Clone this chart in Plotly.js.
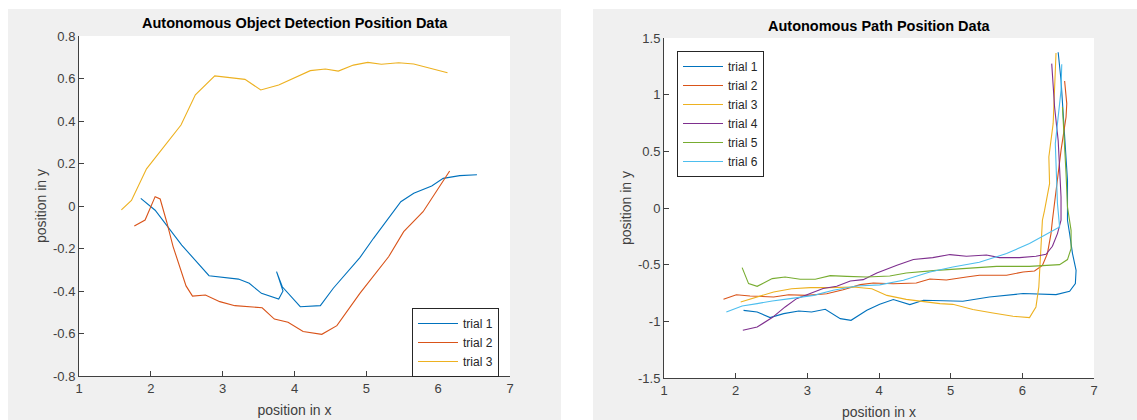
<!DOCTYPE html>
<html>
<head>
<meta charset="utf-8">
<script src="https://cdn.plot.ly/plotly-3.0.1.min.js"></script>
<style>html,body{margin:0;padding:0;background:#fff;}#chart{width:1137px;height:420px;}</style>
</head>
<body>
<div id="chart"></div>
<script>
// ---------- Data: Autonomous Object Detection Position Data ----------
const objLabels = ["trial 1", "trial 2", "trial 3"];
const objT1X = [1.86, 2.06, 2.43, 2.62, 2.81, 3.22, 3.37, 3.54, 3.78, 3.84, 3.75, 3.83, 4.08, 4.36, 4.54, 4.91, 5.10, 5.48, 5.66, 5.91, 6.07, 6.30, 6.54];
const objT1Y = [0.036, -0.02, -0.184, -0.254, -0.328, -0.344, -0.364, -0.411, -0.438, -0.40, -0.309, -0.38, -0.474, -0.469, -0.387, -0.243, -0.152, 0.02, 0.06, 0.094, 0.13, 0.143, 0.147];
const objT2X = [1.77, 1.92, 2.06, 2.13, 2.22, 2.31, 2.49, 2.58, 2.76, 2.96, 3.17, 3.36, 3.55, 3.72, 3.91, 4.12, 4.38, 4.59, 4.91, 5.31, 5.52, 5.79, 6.16];
const objT2Y = [-0.094, -0.066, 0.044, 0.033, -0.074, -0.191, -0.376, -0.424, -0.419, -0.45, -0.469, -0.475, -0.479, -0.532, -0.547, -0.591, -0.604, -0.563, -0.411, -0.239, -0.121, -0.027, 0.165];
const objT3X = [1.59, 1.73, 1.94, 2.20, 2.42, 2.62, 2.89, 3.31, 3.53, 3.78, 4.01, 4.22, 4.43, 4.61, 4.82, 5.02, 5.21, 5.45, 5.66, 5.89, 6.13];
const objT3Y = [-0.018, 0.026, 0.175, 0.287, 0.381, 0.523, 0.612, 0.596, 0.546, 0.569, 0.604, 0.637, 0.645, 0.635, 0.663, 0.676, 0.667, 0.674, 0.668, 0.648, 0.627];

// ---------- Data: Autonomous Path Position Data ----------
const pathLabels = ["trial 1", "trial 2", "trial 3", "trial 4", "trial 5", "trial 6"];
const pathT1X = [2.11, 2.30, 2.48, 2.67, 2.88, 3.06, 3.25, 3.46, 3.61, 3.83, 4.01, 4.20, 4.43, 4.62, 5.17, 5.54, 6.01, 6.47, 6.66, 6.74, 6.75, 6.70, 6.66, 6.63, 6.63, 6.59, 6.54, 6.50];
const pathT1Y = [-0.903, -0.917, -0.967, -0.932, -0.909, -0.917, -0.894, -0.976, -0.991, -0.903, -0.85, -0.808, -0.852, -0.814, -0.823, -0.785, -0.755, -0.764, -0.735, -0.667, -0.55, -0.402, -0.226, -0.108, 0.244, 0.685, 1.127, 1.374];
const pathT2X = [1.83, 2.01, 2.20, 2.53, 2.74, 2.99, 3.27, 3.50, 3.74, 3.92, 4.20, 4.52, 4.71, 4.94, 5.22, 5.40, 5.78, 6.01, 6.17, 6.28, 6.35, 6.40, 6.42, 6.47, 6.54, 6.61, 6.62, 6.59];
const pathT2Y = [-0.806, -0.765, -0.776, -0.785, -0.765, -0.771, -0.756, -0.721, -0.676, -0.662, -0.668, -0.662, -0.626, -0.635, -0.609, -0.594, -0.593, -0.565, -0.556, -0.506, -0.402, -0.226, -0.108, 0.156, 0.509, 0.803, 0.921, 1.121];
const pathT3X = [2.07, 2.30, 2.53, 2.78, 3.04, 3.32, 3.64, 3.90, 4.11, 4.38, 4.57, 4.85, 5.03, 5.31, 5.59, 5.87, 6.10, 6.19, 6.23, 6.26, 6.28, 6.31, 6.38, 6.37, 6.43, 6.47];
const pathT3Y = [-0.829, -0.785, -0.741, -0.712, -0.703, -0.703, -0.697, -0.712, -0.771, -0.806, -0.82, -0.844, -0.85, -0.895, -0.926, -0.955, -0.967, -0.873, -0.697, -0.402, -0.108, -0.021, 0.215, 0.45, 0.744, 1.368];
const pathT4X = [2.10, 2.30, 2.51, 2.69, 2.85, 3.04, 3.22, 3.41, 3.60, 3.78, 3.97, 4.25, 4.48, 4.75, 4.99, 5.22, 5.50, 5.68, 5.96, 6.19, 6.33, 6.42, 6.49, 6.54, 6.54, 6.50, 6.45, 6.41];
const pathT4Y = [-1.079, -1.05, -0.967, -0.873, -0.8, -0.755, -0.711, -0.691, -0.644, -0.632, -0.573, -0.506, -0.455, -0.438, -0.411, -0.426, -0.415, -0.438, -0.438, -0.426, -0.408, -0.338, -0.226, -0.108, 0.097, 0.597, 0.891, 1.274];
const pathT5X = [2.09, 2.18, 2.30, 2.51, 2.69, 2.90, 3.11, 3.32, 3.55, 3.83, 4.15, 4.38, 4.80, 5.22, 5.64, 6.10, 6.52, 6.63, 6.68, 6.68, 6.66, 6.63, 6.61, 6.56];
const pathT5Y = [-0.526, -0.667, -0.691, -0.623, -0.609, -0.629, -0.629, -0.597, -0.603, -0.609, -0.6, -0.573, -0.55, -0.535, -0.515, -0.515, -0.5, -0.455, -0.358, -0.197, -0.108, 0.009, 0.303, 0.891];
const pathT6X = [1.87, 2.09, 2.30, 2.51, 2.76, 3.09, 3.36, 3.69, 4.01, 4.34, 4.71, 5.03, 5.40, 5.78, 6.10, 6.47, 6.52, 6.49, 6.46, 6.49, 6.54, 6.55];
const pathT6Y = [-0.917, -0.865, -0.844, -0.82, -0.8, -0.771, -0.726, -0.688, -0.678, -0.638, -0.565, -0.521, -0.479, -0.402, -0.314, -0.182, -0.167, 0.039, 0.568, 0.744, 1.038, 1.268];

// ---------- Ticks ----------
const xTickVals = [1, 2, 3, 4, 5, 6, 7];
const xTickText = ["1", "2", "3", "4", "5", "6", "7"];
const objYTickVals = [-0.8, -0.6, -0.4, -0.2, 0, 0.2, 0.4, 0.6, 0.8];
const objYTickText = ["-0.8", "-0.6", "-0.4", "-0.2", "0", "0.2", "0.4", "0.6", "0.8"];
const pathYTickVals = [-1.5, -1, -0.5, 0, 0.5, 1, 1.5];
const pathYTickText = ["-1.5", "-1", "-0.5", "0", "0.5", "1", "1.5"];

const colors = ["#0072BD", "#D95319", "#EDB120", "#7E2F8E", "#77AC30", "#4DBEEE"];
const FONT = "Liberation Sans, Arial, Helvetica, sans-serif";

const objData = [[objT1X, objT1Y], [objT2X, objT2Y], [objT3X, objT3Y]];
const pathData = [[pathT1X, pathT1Y], [pathT2X, pathT2Y], [pathT3X, pathT3Y], [pathT4X, pathT4Y], [pathT5X, pathT5Y], [pathT6X, pathT6Y]];

const traces = [];
objData.forEach((d, i) => traces.push({
  x: d[0], y: d[1], type: "scatter", mode: "lines", name: objLabels[i],
  xaxis: "x", yaxis: "y", legend: "legend",
  line: {color: colors[i], width: 1.1}
}));
pathData.forEach((d, i) => traces.push({
  x: d[0], y: d[1], type: "scatter", mode: "lines", name: pathLabels[i],
  xaxis: "x2", yaxis: "y2", legend: "legend2",
  line: {color: colors[i], width: 1.1}
}));

const W = 1137, H = 420;
const px = v => v / W, py = v => (H - v) / H;

function axisCommon(extra) {
  return Object.assign({
    showgrid: false, zeroline: false, showline: true, linecolor: "#404040", linewidth: 1,
    ticks: "inside", ticklen: 5, tickwidth: 1, tickcolor: "#404040",
    tickfont: {family: FONT, size: 13, color: "#404040"},
    fixedrange: true, mirror: false
  }, extra);
}
const xTitle = {text: "position in x", font: {family: FONT, size: 14, color: "#404040"}, standoff: 10};
const yTitle = {text: "position in y", font: {family: FONT, size: 14, color: "#404040"}, standoff: 3};

const layout = {
  width: W, height: H,
  margin: {l: 0, r: 0, t: 0, b: 0},
  paper_bgcolor: "#ffffff", plot_bgcolor: "rgba(0,0,0,0)",
  showlegend: true,
  font: {family: FONT},
  xaxis: axisCommon({domain: [px(79), px(510)], range: [1, 7], tickvals: xTickVals, ticktext: xTickText, anchor: "y", title: xTitle}),
  yaxis: axisCommon({domain: [py(376), py(36)], range: [-0.8, 0.8], tickvals: objYTickVals, ticktext: objYTickText, anchor: "x", title: yTitle}),
  xaxis2: axisCommon({domain: [px(664), px(1094)], range: [1, 7], tickvals: xTickVals, ticktext: xTickText, anchor: "y2", title: xTitle}),
  yaxis2: axisCommon({domain: [py(378), py(38)], range: [-1.5, 1.5], tickvals: pathYTickVals, ticktext: pathYTickText, anchor: "x2", title: yTitle}),
  legend: {x: px(412), y: py(308), xanchor: "left", yanchor: "top", xref: "paper", yref: "paper",
    bgcolor: "#ffffff", bordercolor: "#262626", borderwidth: 1, itemwidth: 40,
    font: {family: FONT, size: 12, color: "#262626"}, tracegroupgap: 0},
  legend2: {x: px(677), y: py(51), xanchor: "left", yanchor: "top", xref: "paper", yref: "paper",
    bgcolor: "#ffffff", bordercolor: "#262626", borderwidth: 1, itemwidth: 40,
    font: {family: FONT, size: 12, color: "#262626"}, tracegroupgap: 0},
  shapes: [
    {type: "rect", xref: "paper", yref: "paper", x0: px(8), x1: px(561), y0: 0, y1: py(9), fillcolor: "#f0f0f0", line: {width: 0}, layer: "below"},
    {type: "rect", xref: "paper", yref: "paper", x0: px(593), x1: 1, y0: 0, y1: py(9), fillcolor: "#f0f0f0", line: {width: 0}, layer: "below"},
    {type: "rect", xref: "paper", yref: "paper", x0: px(79), x1: px(510), y0: py(376), y1: py(36), fillcolor: "#ffffff", line: {width: 0}, layer: "below"},
    {type: "rect", xref: "paper", yref: "paper", x0: px(664), x1: px(1094), y0: py(378), y1: py(38), fillcolor: "#ffffff", line: {width: 0}, layer: "below"}
  ],
  annotations: [
    {text: "<b>Autonomous Object Detection Position Data</b>", xref: "paper", yref: "paper", x: px(294.5), y: py(23), xanchor: "center", yanchor: "middle",
      showarrow: false, font: {family: FONT, size: 14.5, color: "#000000"}},
    {text: "<b>Autonomous Path Position Data</b>", xref: "paper", yref: "paper", x: px(879), y: py(25.5), xanchor: "center", yanchor: "middle",
      showarrow: false, font: {family: FONT, size: 14.5, color: "#000000"}}
  ]
};

Plotly.newPlot("chart", traces, layout, {displayModeBar: false, staticPlot: true});
</script>
</body>
</html>
